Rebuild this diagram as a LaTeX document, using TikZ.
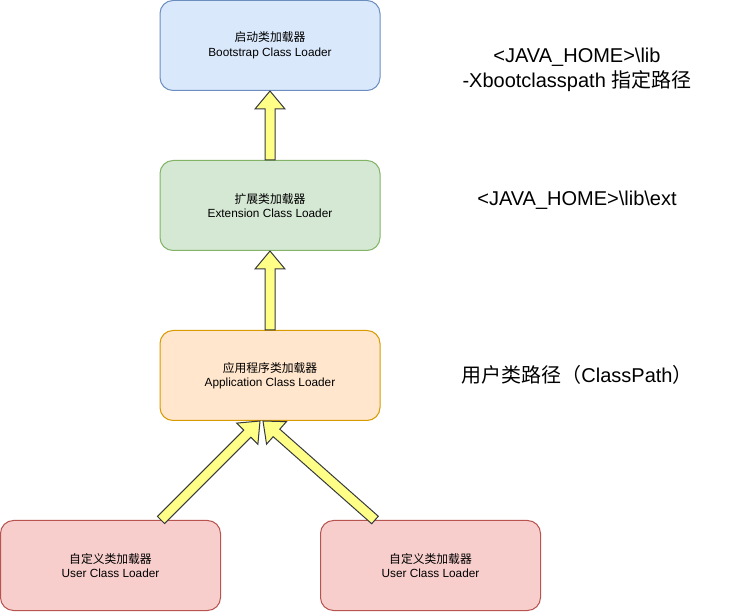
\documentclass[tikz,border=0pt]{standalone}
\usepackage{fontspec}
\setmainfont{Liberation Sans}
\newfontfamily\cjk{Noto Sans CJK SC}
\usetikzlibrary{calc}
\definecolor{bootfill}{HTML}{DAE8FC}\definecolor{bootline}{HTML}{6C8EBF}
\definecolor{extfill}{HTML}{D5E8D4}\definecolor{extline}{HTML}{82B366}
\definecolor{appfill}{HTML}{FFE6CC}\definecolor{appline}{HTML}{D79B00}
\definecolor{userfill}{HTML}{F8CECC}\definecolor{userline}{HTML}{B85450}
\definecolor{arrowfill}{HTML}{FFFF88}\definecolor{arrowline}{HTML}{36393D}
% thick arrow from #1 (tail) to #2 (tip)
\newcommand\flexarrow[2]{%
  \coordinate (fa-c) at ($(#2)!18pt!(#1)$);
  \filldraw[fill=arrowfill,draw=arrowline,line width=1pt,line join=miter]
    ($(#1)!5pt!90:(#2)$) -- ($(fa-c)!5pt!90:(#2)$) -- ($(fa-c)!15pt!90:(#2)$)
    -- (#2) -- ($(fa-c)!15pt!-90:(#2)$) -- ($(fa-c)!5pt!-90:(#2)$)
    -- ($(#1)!5pt!-90:(#2)$) -- cycle;}
\begin{document}
\begin{tikzpicture}[x=1pt,y=-1pt,
    loader/.style={rounded corners=13pt,line width=1pt,minimum width=220pt,
      minimum height=90pt,inner sep=0pt,align=center,
      font=\fontsize{11.8}{14.5}\selectfont},
    pathnote/.style={align=center,font=\fontsize{20}{25}\selectfont}]
        \useasboundingbox (0,0) rectangle (748,612);
        \node (boot) at (270,45.5)[loader,fill=bootfill,draw=bootline]{{\cjk 启动类加载器}\\Bootstrap Class Loader};
        \node (ext) at (270,205.5)[loader,fill=extfill,draw=extline]{{\cjk 扩展类加载器}\\Extension Class Loader};
        \node (app) at (270,375.5)[loader,fill=appfill,draw=appline]{{\cjk 应用程序类加载器}\\Application Class Loader};
        \node (userA) at (110.5,565.5)[loader,fill=userfill,draw=userline]{{\cjk 自定义类加载器}\\User Class Loader};
        \node (userB) at (430.5,565.5)[loader,fill=userfill,draw=userline]{{\cjk 自定义类加载器}\\User Class Loader};
        \node (bootpath) at (577,70)[pathnote]{<JAVA\_HOME>\textbackslash lib\\-Xbootclasspath {\cjk 指定路径}};
        \node (extpath) at (577,200)[pathnote]{<JAVA\_HOME>\textbackslash lib\textbackslash ext};
        \node (apppath) at (577,375)[pathnote]{{\cjk 用户类路径（}ClassPath{\cjk ）}};
        \coordinate (tailA) at ($(userA.north east)+(-60,0)$);
        \coordinate (tailB) at ($(userB.north west)+(55,0)$);
        \coordinate (tipA) at ($(app.south)+(-10,0)$);
        \coordinate (tipB) at ($(app.south)+(-7,0)$);
        \flexarrow{ext.north}{boot.south}
        \flexarrow{app.north}{ext.south}
        \flexarrow{tailA}{tipA}
        \flexarrow{tailB}{tipB}
    \end{tikzpicture}
\end{document}
